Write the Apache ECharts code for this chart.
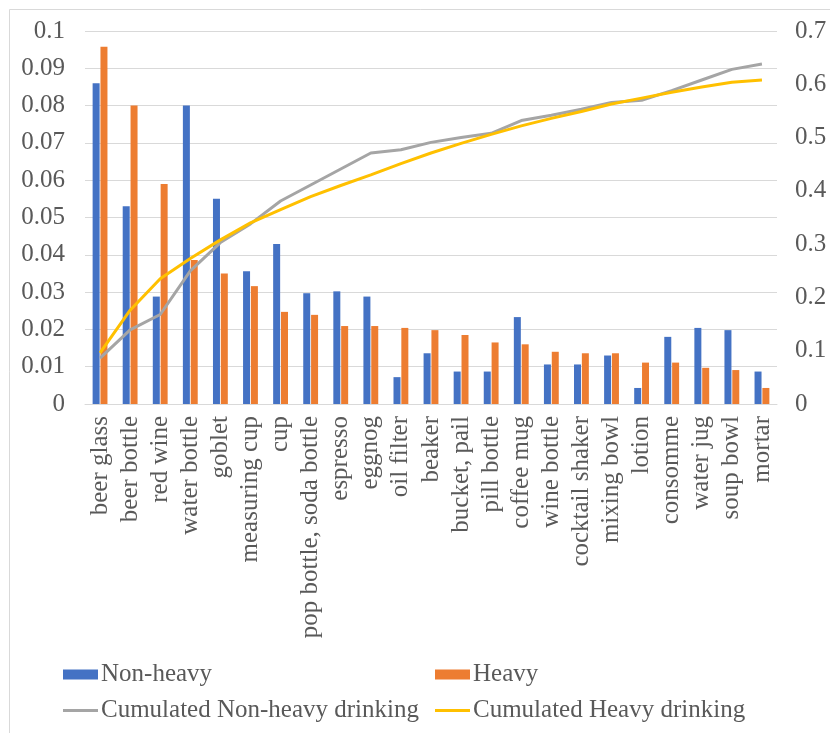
<!DOCTYPE html>
<html>
<head>
<meta charset="utf-8">
<script src="https://cdn.jsdelivr.net/npm/echarts@6/dist/echarts.min.js"></script>
<style>
  html, body { margin: 0; padding: 0; background: #fff; }
  #main { width: 830px; height: 733px; }
</style>
</head>
<body>
<div id="main"></div>
<script>
// categories (x axis)
const categories = ['beer glass', 'beer bottle', 'red wine', 'water bottle', 'goblet', 'measuring cup', 'cup',
  'pop bottle, soda bottle', 'espresso', 'eggnog', 'oil filter', 'beaker', 'bucket, pail', 'pill bottle',
  'coffee mug', 'wine bottle', 'cocktail shaker', 'mixing bowl', 'lotion', 'consomme', 'water jug',
  'soup bowl', 'mortar'];

// bars (left axis)
const nonHeavy = [0.086, 0.053, 0.0288, 0.080, 0.055, 0.0356, 0.0429, 0.0297, 0.0302, 0.0288, 0.0072, 0.0136,
  0.0087, 0.0087, 0.0233, 0.0106, 0.0106, 0.013, 0.0043, 0.018, 0.0204, 0.0198, 0.0087];
const heavy = [0.0958, 0.080, 0.059, 0.0386, 0.035, 0.0316, 0.0247, 0.0239, 0.0209, 0.0209, 0.0204, 0.0198,
  0.0185, 0.0165, 0.016, 0.014, 0.0136, 0.0136, 0.0111, 0.0111, 0.0097, 0.0091, 0.0043];

// cumulated lines (right axis)
const cumNonHeavy = [0.086, 0.139, 0.168, 0.250, 0.303, 0.338, 0.381, 0.411, 0.441, 0.471, 0.477, 0.491,
  0.500, 0.508, 0.532, 0.542, 0.553, 0.566, 0.570, 0.588, 0.608, 0.628, 0.638];
const cumHeavy = [0.096, 0.176, 0.235, 0.273, 0.308, 0.340, 0.365, 0.389, 0.410, 0.430, 0.451, 0.471,
  0.489, 0.506, 0.522, 0.536, 0.549, 0.563, 0.574, 0.585, 0.595, 0.604, 0.608];

const leftTicks = { min: 0, max: 0.1, interval: 0.01 };
const rightTicks = { min: 0, max: 0.7, interval: 0.1 };

const FONT = 'Liberation Serif';
const TXT = '#595959';

let myChart = echarts.init(document.getElementById('main'), null, { renderer: 'canvas' });

// one legend per entry so each sits where the reference puts it
function legendAt (name, left, top, iconH) {
  return {
    data: [{ name: name, icon: 'rect' }],
    left: left,
    top: top,
    itemWidth: 35,
    itemHeight: iconH,
    itemGap: 0,
    padding: 0,
    textStyle: { fontFamily: FONT, fontSize: 25, color: TXT, padding: [0, 0, 0, -2] }
  };
}

let option = {
  backgroundColor: '#fff',
  animation: false,
  // chart frame
  graphic: [{
    type: 'rect',
    shape: { x: 9.5, y: 9.5, width: 840, height: 760 },
    style: { fill: 'none', stroke: '#d9d9d9', lineWidth: 1 },
    silent: true
  }],
  legend: [
    legendAt('Non-heavy', 63, 662, 10),
    legendAt('Heavy', 435, 662, 10),
    legendAt('Cumulated Non-heavy drinking', 63, 698, 3),
    legendAt('Cumulated Heavy drinking', 435, 698, 3)
  ],
  grid: { left: 85, right: 53, top: 31, bottom: 329, containLabel: false },
  xAxis: {
    type: 'category',
    data: categories,
    boundaryGap: true,
    axisLine: { lineStyle: { color: '#d9d9d9', width: 1 } },
    axisTick: { show: false },
    axisLabel: {
      interval: 0,
      rotate: 90,
      margin: 12,
      fontFamily: FONT,
      fontSize: 25,
      color: TXT
    }
  },
  yAxis: [
    {
      type: 'value',
      min: leftTicks.min,
      max: leftTicks.max,
      interval: leftTicks.interval,
      axisLine: { show: false },
      axisTick: { show: false },
      splitLine: { lineStyle: { color: '#d9d9d9', width: 1 } },
      axisLabel: {
        margin: 20,
        fontFamily: FONT,
        fontSize: 25,
        color: TXT,
        formatter: v => String(+v.toFixed(2))
      }
    },
    {
      type: 'value',
      min: rightTicks.min,
      max: rightTicks.max,
      interval: rightTicks.interval,
      axisLine: { show: false },
      axisTick: { show: false },
      splitLine: { show: false },
      axisLabel: {
        margin: 18,
        fontFamily: FONT,
        fontSize: 25,
        color: TXT,
        formatter: v => String(+v.toFixed(1))
      }
    }
  ],
  series: [
    {
      name: 'Non-heavy',
      type: 'bar',
      data: nonHeavy,
      barWidth: 7,
      barGap: '12%',
      itemStyle: { color: '#4472C4' }
    },
    {
      name: 'Heavy',
      type: 'bar',
      data: heavy,
      barWidth: 7,
      barGap: '12%',
      itemStyle: { color: '#ED7D31' }
    },
    {
      name: 'Cumulated Non-heavy drinking',
      type: 'line',
      yAxisIndex: 1,
      data: cumNonHeavy,
      symbol: 'none',
      z: 5,
      lineStyle: { color: '#A5A5A5', width: 3 },
      itemStyle: { color: '#A5A5A5' }
    },
    {
      name: 'Cumulated Heavy drinking',
      type: 'line',
      yAxisIndex: 1,
      data: cumHeavy,
      symbol: 'none',
      z: 6,
      lineStyle: { color: '#FFC000', width: 3 },
      itemStyle: { color: '#FFC000' }
    }
  ]
};

myChart.setOption(option);
</script>
</body>
</html>
